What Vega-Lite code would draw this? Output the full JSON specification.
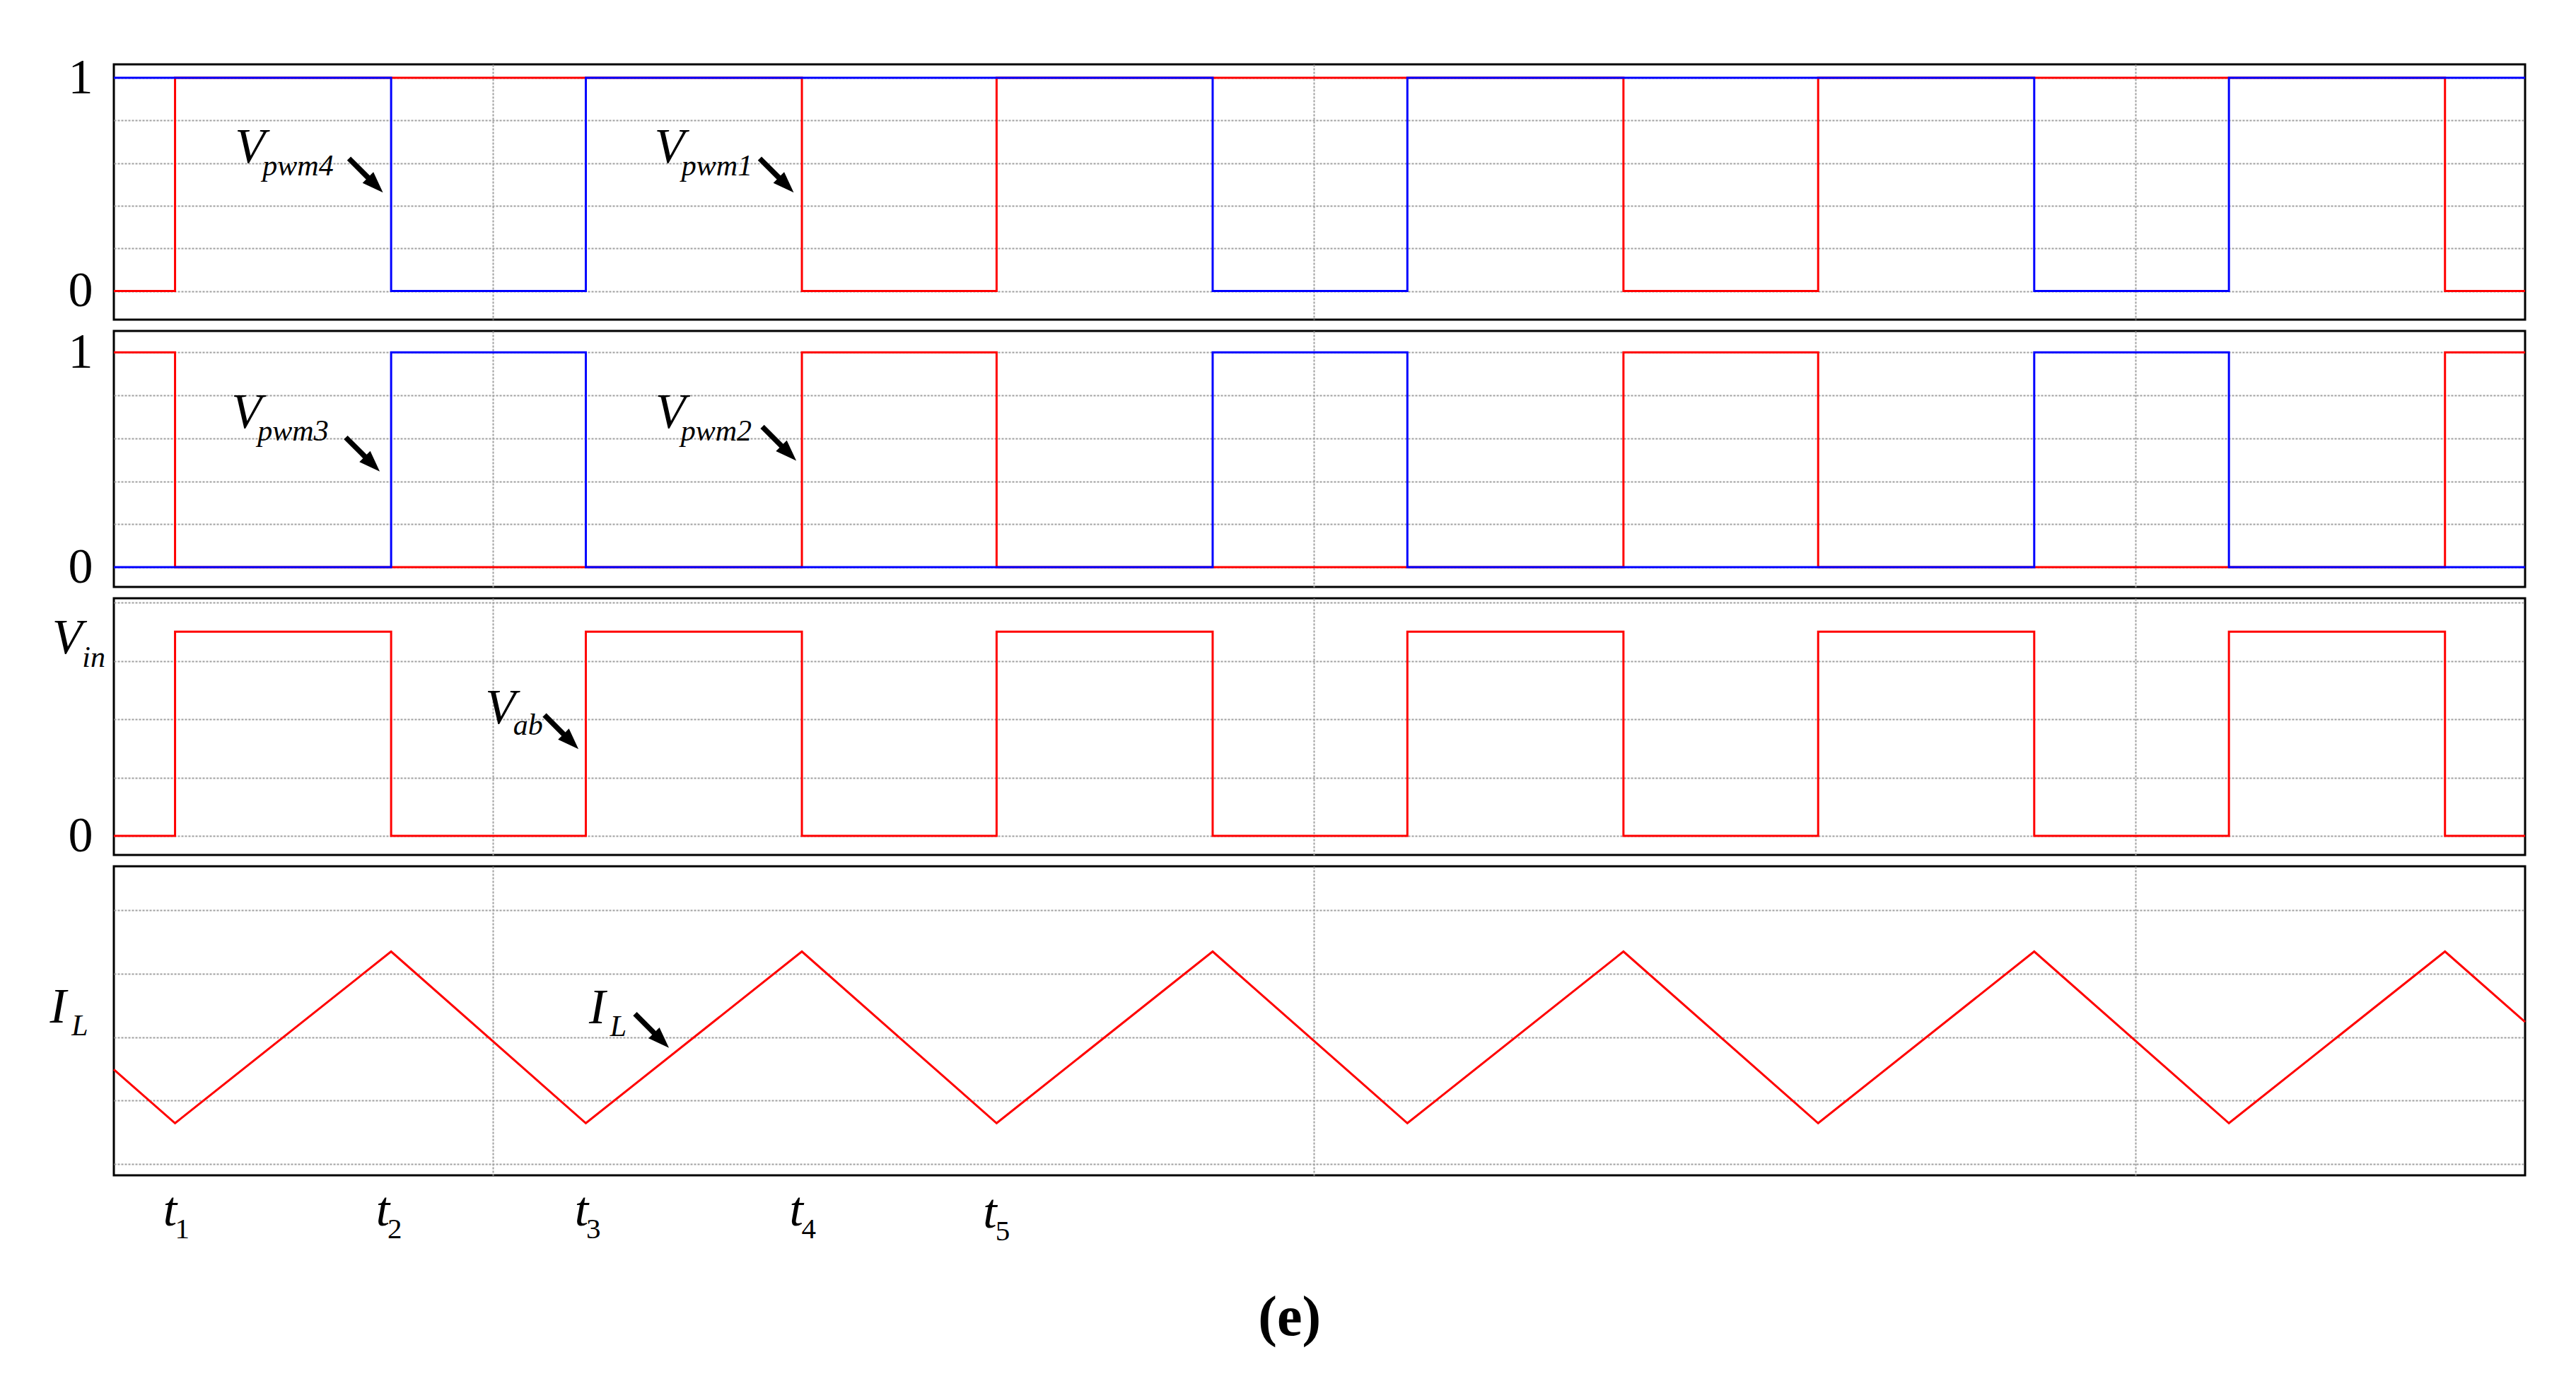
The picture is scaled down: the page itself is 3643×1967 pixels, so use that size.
{
  "$schema": "https://vega.github.io/schema/vega-lite/v6.json",
  "background": "#ffffff",
  "padding": {"left": 68, "top": 73, "right": 72, "bottom": 57},
  "spacing": 16,
  "bounds": "flush",
  "title": {"text": "(e)", "orient": "bottom", "anchor": "middle", "font": "Liberation Serif", "fontSize": 80, "fontWeight": "bold", "color": "#000000", "offset": 62},
  "config": {
    "view": {"stroke": "#000000", "strokeWidth": 3},
    "axis": {"gridColor": "#a0a0a0", "gridDash": [3, 2], "gridWidth": 2, "ticks": false, "domain": false, "labelFont": "Liberation Serif", "labelFontSize": 70, "labelColor": "#000000"},
    "text": {"font": "Liberation Serif", "color": "#000000"}
  },
  "datasets": {
    "signals": [
      {"panel": "p1", "sig": "Vpwm1", "t": 0, "v": 0},
      {"panel": "p1", "sig": "Vpwm1", "t": 1.49, "v": 1},
      {"panel": "p1", "sig": "Vpwm1", "t": 16.75, "v": 0},
      {"panel": "p1", "sig": "Vpwm1", "t": 21.49, "v": 1},
      {"panel": "p1", "sig": "Vpwm1", "t": 36.75, "v": 0},
      {"panel": "p1", "sig": "Vpwm1", "t": 41.49, "v": 1},
      {"panel": "p1", "sig": "Vpwm1", "t": 56.75, "v": 0},
      {"panel": "p1", "sig": "Vpwm1", "t": 58.7, "v": 0},
      {"panel": "p1", "sig": "Vpwm4", "t": 0, "v": 1},
      {"panel": "p1", "sig": "Vpwm4", "t": 6.75, "v": 0},
      {"panel": "p1", "sig": "Vpwm4", "t": 11.49, "v": 1},
      {"panel": "p1", "sig": "Vpwm4", "t": 26.75, "v": 0},
      {"panel": "p1", "sig": "Vpwm4", "t": 31.49, "v": 1},
      {"panel": "p1", "sig": "Vpwm4", "t": 46.75, "v": 0},
      {"panel": "p1", "sig": "Vpwm4", "t": 51.49, "v": 1},
      {"panel": "p1", "sig": "Vpwm4", "t": 58.7, "v": 1},
      {"panel": "p2", "sig": "Vpwm2", "t": 0, "v": 1},
      {"panel": "p2", "sig": "Vpwm2", "t": 1.49, "v": 0},
      {"panel": "p2", "sig": "Vpwm2", "t": 16.75, "v": 1},
      {"panel": "p2", "sig": "Vpwm2", "t": 21.49, "v": 0},
      {"panel": "p2", "sig": "Vpwm2", "t": 36.75, "v": 1},
      {"panel": "p2", "sig": "Vpwm2", "t": 41.49, "v": 0},
      {"panel": "p2", "sig": "Vpwm2", "t": 56.75, "v": 1},
      {"panel": "p2", "sig": "Vpwm2", "t": 58.7, "v": 1},
      {"panel": "p2", "sig": "Vpwm3", "t": 0, "v": 0},
      {"panel": "p2", "sig": "Vpwm3", "t": 6.75, "v": 1},
      {"panel": "p2", "sig": "Vpwm3", "t": 11.49, "v": 0},
      {"panel": "p2", "sig": "Vpwm3", "t": 26.75, "v": 1},
      {"panel": "p2", "sig": "Vpwm3", "t": 31.49, "v": 0},
      {"panel": "p2", "sig": "Vpwm3", "t": 46.75, "v": 1},
      {"panel": "p2", "sig": "Vpwm3", "t": 51.49, "v": 0},
      {"panel": "p2", "sig": "Vpwm3", "t": 58.7, "v": 0},
      {"panel": "p3", "sig": "Vab", "t": 0, "v": 0},
      {"panel": "p3", "sig": "Vab", "t": 1.49, "v": 3.5},
      {"panel": "p3", "sig": "Vab", "t": 6.75, "v": 0},
      {"panel": "p3", "sig": "Vab", "t": 11.49, "v": 3.5},
      {"panel": "p3", "sig": "Vab", "t": 16.75, "v": 0},
      {"panel": "p3", "sig": "Vab", "t": 21.49, "v": 3.5},
      {"panel": "p3", "sig": "Vab", "t": 26.75, "v": 0},
      {"panel": "p3", "sig": "Vab", "t": 31.49, "v": 3.5},
      {"panel": "p3", "sig": "Vab", "t": 36.75, "v": 0},
      {"panel": "p3", "sig": "Vab", "t": 41.49, "v": 3.5},
      {"panel": "p3", "sig": "Vab", "t": 46.75, "v": 0},
      {"panel": "p3", "sig": "Vab", "t": 51.49, "v": 3.5},
      {"panel": "p3", "sig": "Vab", "t": 56.75, "v": 0},
      {"panel": "p3", "sig": "Vab", "t": 58.7, "v": 0},
      {"panel": "p4", "sig": "IL", "t": 0, "v": 1.49},
      {"panel": "p4", "sig": "IL", "t": 1.49, "v": 0.645},
      {"panel": "p4", "sig": "IL", "t": 6.75, "v": 3.35},
      {"panel": "p4", "sig": "IL", "t": 11.49, "v": 0.645},
      {"panel": "p4", "sig": "IL", "t": 16.75, "v": 3.35},
      {"panel": "p4", "sig": "IL", "t": 21.49, "v": 0.645},
      {"panel": "p4", "sig": "IL", "t": 26.75, "v": 3.35},
      {"panel": "p4", "sig": "IL", "t": 31.49, "v": 0.645},
      {"panel": "p4", "sig": "IL", "t": 36.75, "v": 3.35},
      {"panel": "p4", "sig": "IL", "t": 41.49, "v": 0.645},
      {"panel": "p4", "sig": "IL", "t": 46.75, "v": 3.35},
      {"panel": "p4", "sig": "IL", "t": 51.49, "v": 0.645},
      {"panel": "p4", "sig": "IL", "t": 56.75, "v": 3.35},
      {"panel": "p4", "sig": "IL", "t": 58.7, "v": 2.24}
    ],
    "arrows": [
      {"panel": "p1", "t": 6.137, "v": 0.542},
      {"panel": "p1", "t": 16.137, "v": 0.542},
      {"panel": "p2", "t": 6.06, "v": 0.525},
      {"panel": "p2", "t": 16.2, "v": 0.575},
      {"panel": "p3", "t": 10.897, "v": 1.78},
      {"panel": "p4", "t": 13.1, "v": 2.1}
    ],
    "labels": [
      {"panel": "p1", "kind": "main", "t": 2.95, "v": 0.602, "text": "V"},
      {"panel": "p1", "kind": "sub", "t": 3.62, "v": 0.541, "text": "pwm4"},
      {"panel": "p1", "kind": "main", "t": 13.16, "v": 0.602, "text": "V"},
      {"panel": "p1", "kind": "sub", "t": 13.82, "v": 0.541, "text": "pwm1"},
      {"panel": "p2", "kind": "main", "t": 2.86, "v": 0.65, "text": "V"},
      {"panel": "p2", "kind": "sub", "t": 3.5, "v": 0.591, "text": "pwm3"},
      {"panel": "p2", "kind": "main", "t": 13.18, "v": 0.65, "text": "V"},
      {"panel": "p2", "kind": "sub", "t": 13.8, "v": 0.591, "text": "pwm2"},
      {"panel": "p3", "kind": "main", "t": 9.04, "v": 1.93, "text": "V"},
      {"panel": "p3", "kind": "sub", "t": 9.72, "v": 1.73, "text": "ab"},
      {"panel": "p3", "kind": "main", "t": -1.5, "v": 3.127, "text": "V"},
      {"panel": "p3", "kind": "sub", "t": -0.77, "v": 2.9, "text": "in"},
      {"panel": "p4", "kind": "main", "t": 11.57, "v": 2.218, "text": "I"},
      {"panel": "p4", "kind": "sub", "t": 12.08, "v": 2.022, "text": "L"},
      {"panel": "p4", "kind": "main", "t": -1.56, "v": 2.226, "text": "I"},
      {"panel": "p4", "kind": "sub", "t": -1.03, "v": 2.03, "text": "L"},
      {"panel": "p4", "kind": "main", "t": 1.2, "v": -0.973, "text": "t"},
      {"panel": "p4", "kind": "tsub", "t": 1.49, "v": -1.174, "text": "1"},
      {"panel": "p4", "kind": "main", "t": 6.38, "v": -0.973, "text": "t"},
      {"panel": "p4", "kind": "tsub", "t": 6.66, "v": -1.174, "text": "2"},
      {"panel": "p4", "kind": "main", "t": 11.22, "v": -0.973, "text": "t"},
      {"panel": "p4", "kind": "tsub", "t": 11.5, "v": -1.174, "text": "3"},
      {"panel": "p4", "kind": "main", "t": 16.45, "v": -0.973, "text": "t"},
      {"panel": "p4", "kind": "tsub", "t": 16.74, "v": -1.174, "text": "4"},
      {"panel": "p4", "kind": "main", "t": 21.16, "v": -1.0, "text": "t"},
      {"panel": "p4", "kind": "tsub", "t": 21.46, "v": -1.2, "text": "5"}
    ]
  },
  "vconcat": [
    {
      "width": 3410,
      "height": 361,
      "encoding": {
        "x": {"field": "t", "type": "quantitative", "scale": {"domain": [0, 58.7], "nice": false, "zero": false}, "axis": {"values": [9.22, 29.22, 49.22], "labels": false, "grid": true, "title": null}},
        "y": {"field": "v", "type": "quantitative", "scale": {"domain": [-0.134, 1.063], "nice": false, "zero": false}, "axis": {"values": [0, 0.2, 0.4, 0.6, 0.8, 1], "grid": true, "title": null, "labelPadding": 30, "labelExpr": "datum.value == 0 ? '0' : (datum.value == 1 ? '1' : '')"}}
      },
      "layer": [
        {"data": {"name": "signals"}, "transform": [{"filter": "datum.sig == 'Vpwm1'"}], "mark": {"type": "line", "interpolate": "step-after", "color": "#ff0000", "strokeWidth": 3}},
        {"data": {"name": "signals"}, "transform": [{"filter": "datum.sig == 'Vpwm4'"}], "mark": {"type": "line", "interpolate": "step-after", "color": "#0000ff", "strokeWidth": 3}},
        {"data": {"name": "arrows"}, "transform": [{"filter": "datum.panel == 'p1'"}], "mark": {"type": "point", "shape": "M0,-1L0.32,-0.12L0.11,-0.12L0.11,1L-0.11,1L-0.11,-0.12L-0.32,-0.12Z", "size": 4624, "angle": 135, "filled": true, "color": "#000000", "opacity": 1, "strokeWidth": 0}},
        {"data": {"name": "labels"}, "transform": [{"filter": "datum.panel == 'p1' && datum.kind == 'main'"}], "mark": {"type": "text", "fontStyle": "italic", "fontSize": 70, "align": "left", "baseline": "alphabetic"}, "encoding": {"text": {"field": "text"}}},
        {"data": {"name": "labels"}, "transform": [{"filter": "datum.panel == 'p1' && datum.kind == 'sub'"}], "mark": {"type": "text", "fontStyle": "italic", "fontSize": 42, "align": "left", "baseline": "alphabetic"}, "encoding": {"text": {"field": "text"}}}
      ]
    },
    {
      "width": 3410,
      "height": 362,
      "encoding": {
        "x": {"field": "t", "type": "quantitative", "scale": {"domain": [0, 58.7], "nice": false, "zero": false}, "axis": {"values": [9.22, 29.22, 49.22], "labels": false, "grid": true, "title": null}},
        "y": {"field": "v", "type": "quantitative", "scale": {"domain": [-0.092, 1.1], "nice": false, "zero": false}, "axis": {"values": [0, 0.2, 0.4, 0.6, 0.8, 1], "grid": true, "title": null, "labelPadding": 30, "labelExpr": "datum.value == 0 ? '0' : (datum.value == 1 ? '1' : '')"}}
      },
      "layer": [
        {"data": {"name": "signals"}, "transform": [{"filter": "datum.sig == 'Vpwm2'"}], "mark": {"type": "line", "interpolate": "step-after", "color": "#ff0000", "strokeWidth": 3}},
        {"data": {"name": "signals"}, "transform": [{"filter": "datum.sig == 'Vpwm3'"}], "mark": {"type": "line", "interpolate": "step-after", "color": "#0000ff", "strokeWidth": 3}},
        {"data": {"name": "arrows"}, "transform": [{"filter": "datum.panel == 'p2'"}], "mark": {"type": "point", "shape": "M0,-1L0.32,-0.12L0.11,-0.12L0.11,1L-0.11,1L-0.11,-0.12L-0.32,-0.12Z", "size": 4624, "angle": 135, "filled": true, "color": "#000000", "opacity": 1, "strokeWidth": 0}},
        {"data": {"name": "labels"}, "transform": [{"filter": "datum.panel == 'p2' && datum.kind == 'main'"}], "mark": {"type": "text", "fontStyle": "italic", "fontSize": 70, "align": "left", "baseline": "alphabetic"}, "encoding": {"text": {"field": "text"}}},
        {"data": {"name": "labels"}, "transform": [{"filter": "datum.panel == 'p2' && datum.kind == 'sub'"}], "mark": {"type": "text", "fontStyle": "italic", "fontSize": 42, "align": "left", "baseline": "alphabetic"}, "encoding": {"text": {"field": "text"}}}
      ]
    },
    {
      "width": 3410,
      "height": 363,
      "encoding": {
        "x": {"field": "t", "type": "quantitative", "scale": {"domain": [0, 58.7], "nice": false, "zero": false}, "axis": {"values": [9.22, 29.22, 49.22], "labels": false, "grid": true, "title": null}},
        "y": {"field": "v", "type": "quantitative", "scale": {"domain": [-0.327, 4.073], "nice": false, "zero": false}, "axis": {"values": [0, 1, 2, 3, 4], "grid": true, "title": null, "labelPadding": 30, "labelExpr": "datum.value == 0 ? '0' : ''"}}
      },
      "layer": [
        {"data": {"name": "signals"}, "transform": [{"filter": "datum.sig == 'Vab'"}], "mark": {"type": "line", "interpolate": "step-after", "color": "#ff0000", "strokeWidth": 3}},
        {"data": {"name": "arrows"}, "transform": [{"filter": "datum.panel == 'p3'"}], "mark": {"type": "point", "shape": "M0,-1L0.32,-0.12L0.11,-0.12L0.11,1L-0.11,1L-0.11,-0.12L-0.32,-0.12Z", "size": 4624, "angle": 135, "filled": true, "color": "#000000", "opacity": 1, "strokeWidth": 0}},
        {"data": {"name": "labels"}, "transform": [{"filter": "datum.panel == 'p3' && datum.kind == 'main'"}], "mark": {"type": "text", "fontStyle": "italic", "fontSize": 70, "align": "left", "baseline": "alphabetic"}, "encoding": {"text": {"field": "text"}}},
        {"data": {"name": "labels"}, "transform": [{"filter": "datum.panel == 'p3' && datum.kind == 'sub'"}], "mark": {"type": "text", "fontStyle": "italic", "fontSize": 42, "align": "left", "baseline": "alphabetic"}, "encoding": {"text": {"field": "text"}}}
      ]
    },
    {
      "width": 3410,
      "height": 437,
      "encoding": {
        "x": {"field": "t", "type": "quantitative", "scale": {"domain": [0, 58.7], "nice": false, "zero": false}, "axis": {"values": [9.22, 29.22, 49.22], "labels": false, "grid": true, "title": null}},
        "y": {"field": "v", "type": "quantitative", "scale": {"domain": [-0.177, 4.694], "nice": false, "zero": false}, "axis": {"values": [0, 1, 2, 3, 4], "grid": true, "labels": false, "title": null}}
      },
      "layer": [
        {"data": {"name": "signals"}, "transform": [{"filter": "datum.sig == 'IL'"}], "mark": {"type": "line", "interpolate": "linear", "color": "#ff0000", "strokeWidth": 3}},
        {"data": {"name": "arrows"}, "transform": [{"filter": "datum.panel == 'p4'"}], "mark": {"type": "point", "shape": "M0,-1L0.32,-0.12L0.11,-0.12L0.11,1L-0.11,1L-0.11,-0.12L-0.32,-0.12Z", "size": 4624, "angle": 135, "filled": true, "color": "#000000", "opacity": 1, "strokeWidth": 0}},
        {"data": {"name": "labels"}, "transform": [{"filter": "datum.panel == 'p4' && datum.kind == 'main'"}], "mark": {"type": "text", "fontStyle": "italic", "fontSize": 70, "align": "left", "baseline": "alphabetic"}, "encoding": {"text": {"field": "text"}}},
        {"data": {"name": "labels"}, "transform": [{"filter": "datum.panel == 'p4' && datum.kind == 'sub'"}], "mark": {"type": "text", "fontStyle": "italic", "fontSize": 42, "align": "left", "baseline": "alphabetic"}, "encoding": {"text": {"field": "text"}}},
        {"data": {"name": "labels"}, "transform": [{"filter": "datum.panel == 'p4' && datum.kind == 'tsub'"}], "mark": {"type": "text", "fontSize": 41, "align": "left", "baseline": "alphabetic"}, "encoding": {"text": {"field": "text"}}}
      ]
    }
  ]
}
